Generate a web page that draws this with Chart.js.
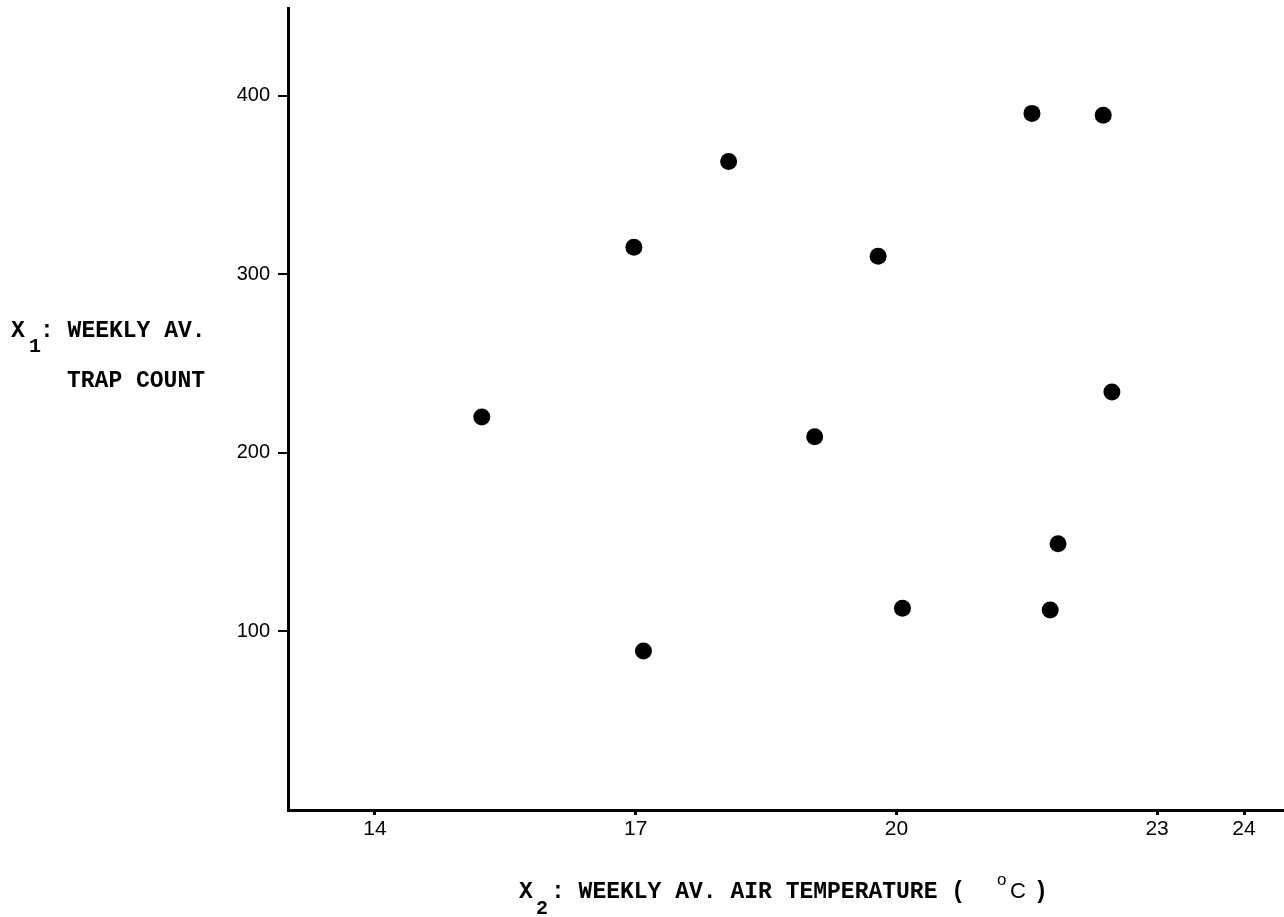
<!DOCTYPE html>
<html>
<head>
<meta charset="utf-8">
<script src="https://cdn.jsdelivr.net/npm/chart.js@4.4.1/dist/chart.umd.min.js"></script>
<style>
  html, body { margin: 0; padding: 0; background: #ffffff; }
  #wrap { width: 1284px; height: 917px; }
</style>
</head>
<body>
<div id="wrap"><canvas id="c" width="1284" height="917"></canvas></div>
<script>
// ---- data ----
const temperature = [15.23, 16.98, 17.09, 18.07, 19.06, 19.79, 20.07, 21.56, 21.77, 21.86, 22.38, 22.48];
const trapCount   = [220,   315,   89,    363,   209,   310,   113,   390,   112,   149,   389,   234];
const xTickValues = [14, 17, 20, 23, 24];
const yTickValues = [100, 200, 300, 400];
const yTitleLine1 = ['X', '1', ': WEEKLY AV.'];
const yTitleLine2 = 'TRAP COUNT';
const xTitleParts = ['X', '2', ': WEEKLY AV. AIR TEMPERATURE (', 'o', 'C', ')'];

const points = temperature.map((t, i) => ({ x: t, y: trapCount[i] }));

const MONO = '"Liberation Mono", "DejaVu Sans Mono", monospace';
const SANS = '"Liberation Sans", Arial, sans-serif';

const titlesPlugin = {
  id: 'typewriterTitles',
  afterDraw(chart) {
    const ctx = chart.ctx;
    const a = chart.chartArea;
    ctx.save();
    ctx.fillStyle = '#000';
    ctx.textBaseline = 'alphabetic';
    ctx.textAlign = 'left';
    const big = 'bold 23px ' + MONO;
    const sub = 'bold 20px ' + MONO;
    // y axis title (horizontal, left of axis)
    const yBase = a.top + 329;
    ctx.font = big;
    ctx.fillText(yTitleLine1[0], 11, yBase);
    ctx.font = sub;
    ctx.fillText(yTitleLine1[1], 29, yBase + 15);
    ctx.font = big;
    ctx.fillText(yTitleLine1[2], 40, yBase);
    ctx.fillText(yTitleLine2, 67, yBase + 50);

    // x axis title (below axis)
    const xBase = a.bottom + 88;
    ctx.font = big;
    ctx.fillText(xTitleParts[0], 519, xBase);
    ctx.font = sub;
    ctx.fillText(xTitleParts[1], 536, xBase + 16);
    ctx.font = big;
    ctx.fillText(xTitleParts[2], 551, xBase);
    ctx.font = '17px ' + SANS;
    ctx.fillText(xTitleParts[3], 997, xBase - 13);
    ctx.font = '22px ' + SANS;
    ctx.fillText(xTitleParts[4], 1010, xBase);
    ctx.font = big;
    ctx.fillText(xTitleParts[5], 1034, xBase);
    ctx.restore();
  }
};

const zeroPad = s => { s.paddingTop = 0; s.paddingBottom = 0; s.paddingLeft = 0; s.paddingRight = 0; };

new Chart(document.getElementById('c'), {
  type: 'scatter',
  data: {
    datasets: [{
      data: points,
      backgroundColor: '#000',
      borderColor: '#000',
      pointRadius: 8.5,
      pointHoverRadius: 8.5,
      borderWidth: 0
    }]
  },
  options: {
    responsive: false,
    devicePixelRatio: 1,
    animation: false,
    events: [],
    layout: { autoPadding: false, padding: { top: 8, right: 0, bottom: 0, left: 0 } },
    plugins: { legend: { display: false }, tooltip: { enabled: false } },
    scales: {
      x: {
        type: 'linear',
        min: 13,
        max: 24.46,
        afterBuildTicks: s => { s.ticks = xTickValues.map(v => ({ value: v })); },
        afterFit: s => { s.height = 107; zeroPad(s); },
        border: { display: true, color: '#000', width: 3 },
        grid: { drawOnChartArea: false, drawTicks: true, tickLength: 5, color: '#000', lineWidth: 3 },
        ticks: {
          color: '#000',
          padding: 2,
          autoSkip: false,
          maxRotation: 0,
          font: { family: SANS, size: 21 },
          callback: v => String(v)
        }
      },
      y: {
        type: 'linear',
        min: 0,
        max: 449,
        afterBuildTicks: s => { s.ticks = yTickValues.map(v => ({ value: v })); },
        afterFit: s => { s.width = 288; zeroPad(s); },
        border: { display: true, color: '#000', width: 3 },
        grid: { drawOnChartArea: false, drawTicks: true, tickLength: 10, color: '#000', lineWidth: 2 },
        ticks: {
          color: '#000',
          padding: 8,
          font: { family: SANS, size: 20 },
          callback: v => String(v)
        }
      }
    }
  },
  plugins: [titlesPlugin]
});
</script>
</body>
</html>
